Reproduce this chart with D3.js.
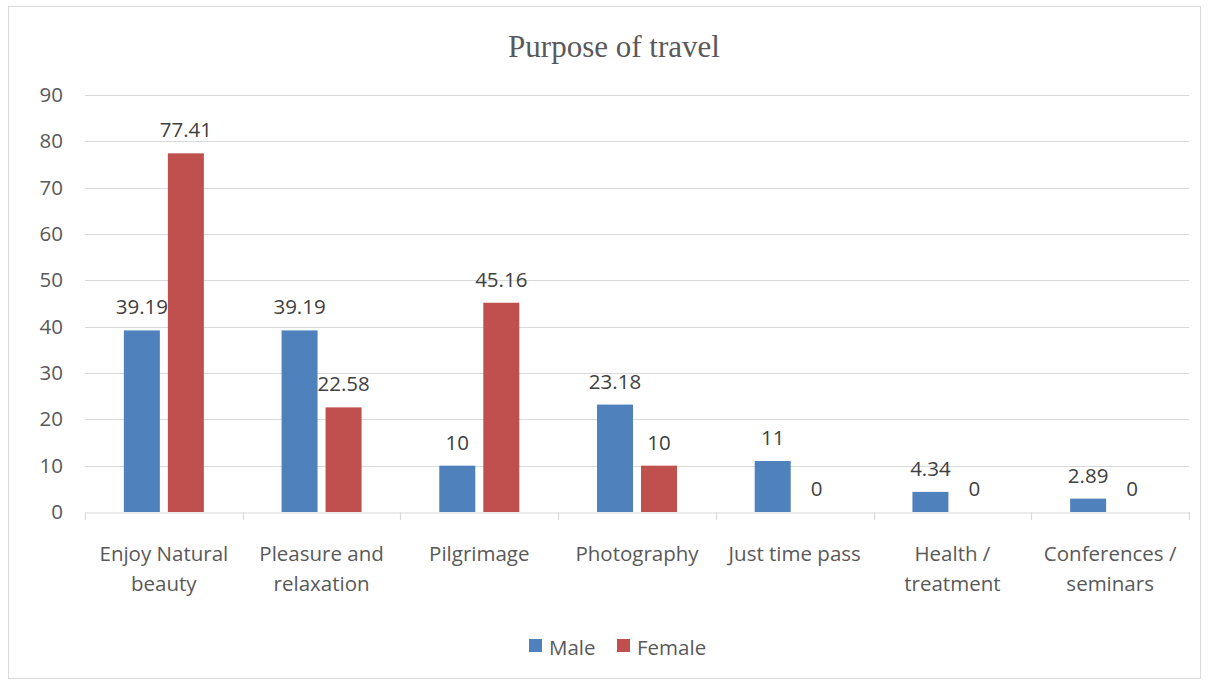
<!DOCTYPE html>
<html>
<head>
<meta charset="utf-8">
<script src="https://cdn.jsdelivr.net/npm/d3@7"></script>
<style>
  body { margin: 0; background: #fff; }
  svg { display: block; }
</style>
</head>
<body>
<svg id="chart" width="1209" height="681"></svg>
<script>
// Survey results: purpose of travel by gender (%)
const categories = [
  ["Enjoy Natural", "beauty"],
  ["Pleasure and", "relaxation"],
  ["Pilgrimage"],
  ["Photography"],
  ["Just time pass"],
  ["Health /", "treatment"],
  ["Conferences /", "seminars"]
];
const seriesNames = ["Male", "Female"];
const maleValues = [39.19, 39.19, 10, 23.18, 11, 4.34, 2.89];
const femaleValues = [77.41, 22.58, 45.16, 10, 0, 0, 0];
const yTicks = [0, 10, 20, 30, 40, 50, 60, 70, 80, 90];
const colors = ["#4f81bd", "#c0504d"];

const svg = d3.select("#chart");
const plotLeft = 85, plotRight = 1189;
const plotTop = 95, plotBottom = 512;

const labelFont = "'Open Sans', Lato, sans-serif";
const labelSize = 20.5;

// chart frame
svg.append("rect")
  .attr("x", 8.5).attr("y", 6.5)
  .attr("width", 1192).attr("height", 672)
  .attr("fill", "#fff").attr("stroke", "#d9d9d9").attr("stroke-width", 1);

// title
svg.append("text")
  .attr("x", 614).attr("y", 57)
  .attr("text-anchor", "middle")
  .attr("font-family", "'Liberation Serif', 'Times New Roman', serif")
  .attr("font-size", 31)
  .attr("fill", "#595959")
  .text("Purpose of travel");

const idx = d3.range(categories.length);
const x0 = d3.scaleBand().domain(idx).range([plotLeft, plotRight]).paddingInner(0).paddingOuter(0);
const x1 = d3.scaleBand().domain(seriesNames).range([0, x0.bandwidth()]).paddingInner(0.182).paddingOuter(0.883);
const y = d3.scaleLinear().domain([0, 90]).range([plotBottom, plotTop]);

// gridlines
svg.append("g")
  .selectAll("line")
  .data(yTicks.filter(t => t > 0))
  .join("line")
  .attr("x1", plotLeft).attr("x2", plotRight)
  .attr("y1", d => Math.round(y(d)) + 0.5).attr("y2", d => Math.round(y(d)) + 0.5)
  .attr("stroke", "#d9d9d9").attr("stroke-width", 1.2);

// y axis labels
const yAxis = d3.axisLeft(y).tickValues(yTicks).tickSize(0).tickPadding(22);
const gy = svg.append("g").attr("transform", `translate(${plotLeft},0)`).call(yAxis);
gy.select(".domain").remove();
gy.selectAll("text")
  .attr("font-family", labelFont).attr("font-size", labelSize).attr("fill", "#595959");

// bars
const data = idx.map(i => ({ i, values: [maleValues[i], femaleValues[i]] }));
const groups = svg.append("g").selectAll("g")
  .data(data)
  .join("g")
  .attr("transform", d => `translate(${x0(d.i)},0)`);

groups.selectAll("rect")
  .data(d => d.values.map((v, k) => ({ v, k })))
  .join("rect")
  .attr("x", d => x1(seriesNames[d.k]))
  .attr("width", x1.bandwidth())
  .attr("y", d => y(d.v))
  .attr("height", d => y(0) - y(d.v))
  .attr("fill", d => colors[d.k]);

// value labels
groups.selectAll("text.val")
  .data(d => d.values.map((v, k) => ({ v, k })))
  .join("text")
  .attr("class", "val")
  .attr("x", d => x1(seriesNames[d.k]) + x1.bandwidth() / 2)
  .attr("y", d => y(d.v) - 16)
  .attr("text-anchor", "middle")
  .attr("font-family", labelFont).attr("font-size", labelSize).attr("fill", "#404040")
  .text(d => d.v);

// x axis line and category separators
const xAxis = d3.axisBottom(x0).tickSize(0).tickFormat("");
const gx = svg.append("g").attr("transform", `translate(0,${plotBottom + 0.5})`).call(xAxis);
gx.select(".domain").attr("stroke", "#d9d9d9").attr("stroke-width", 1.2);
const boundaries = d3.range(categories.length + 1).map(i => plotLeft + i * x0.bandwidth());
svg.append("g").selectAll("line")
  .data(boundaries)
  .join("line")
  .attr("x1", d => Math.round(d) + 0.5).attr("x2", d => Math.round(d) + 0.5)
  .attr("y1", plotBottom).attr("y2", plotBottom + 8)
  .attr("stroke", "#d9d9d9").attr("stroke-width", 1.2);

// category labels
const catLabels = svg.append("g").selectAll("text")
  .data(idx)
  .join("text")
  .attr("x", i => x0(i) + x0.bandwidth() / 2)
  .attr("y", 561)
  .attr("text-anchor", "middle")
  .attr("font-family", labelFont).attr("font-size", labelSize).attr("fill", "#595959");
catLabels.selectAll("tspan")
  .data(i => categories[i].map(line => ({ line, cx: x0(i) + x0.bandwidth() / 2 })))
  .join("tspan")
  .attr("x", d => d.cx)
  .attr("dy", (d, j) => j === 0 ? 0 : 30)
  .text(d => d.line);

// legend
const legendItems = [
  { name: seriesNames[0], color: colors[0], x: 529 },
  { name: seriesNames[1], color: colors[1], x: 617 }
];
const lg = svg.append("g").selectAll("g").data(legendItems).join("g")
  .attr("transform", d => `translate(${d.x},639)`);
lg.append("rect").attr("width", 13).attr("height", 13).attr("fill", d => d.color);
lg.append("text")
  .attr("x", 20).attr("y", 16)
  .attr("font-family", labelFont).attr("font-size", labelSize).attr("fill", "#595959")
  .text(d => d.name);
</script>
</body>
</html>
